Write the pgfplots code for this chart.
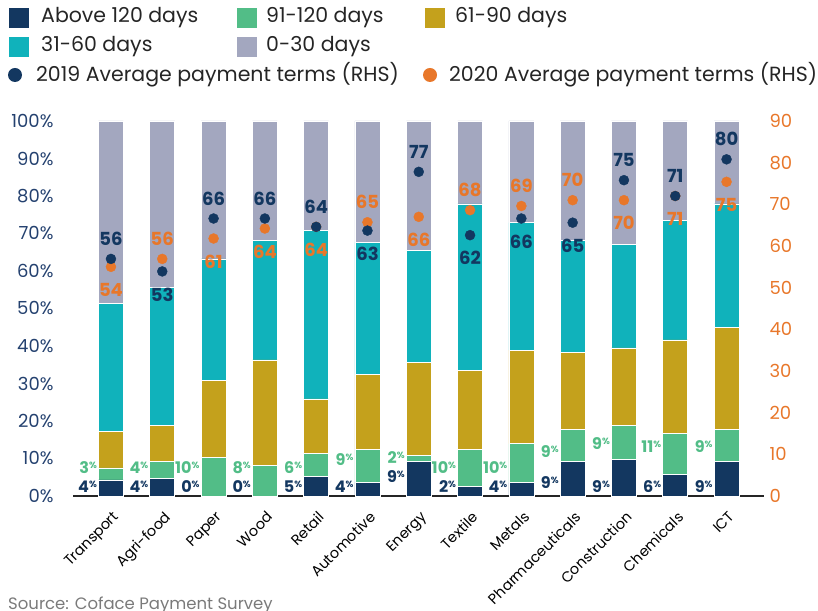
\documentclass[border=0pt]{standalone}
\usepackage{fontspec}
\setmainfont{Poppins}
\usepackage{pgfplots}
\usepackage{pgfplotstable}
\pgfplotsset{compat=1.18}
\definecolor{cNavy}{HTML}{133760}
\definecolor{cGreen}{HTML}{52BD87}
\definecolor{cGold}{HTML}{C4A11C}
\definecolor{cTeal}{HTML}{10B2BB}
\definecolor{cGrey}{HTML}{A3A7BF}
\definecolor{cOrange}{HTML}{E8772A}
\definecolor{cAxis}{HTML}{252525}
\definecolor{cTick}{HTML}{24416F}
\definecolor{cSrc}{HTML}{7A7A7A}
\newcommand{\pl}[1]{\textbf{#1}\smash{\raisebox{5pt}{\fontsize{9}{9}\selectfont\bfseries\%}}}
\pgfplotstableread{
x A B C D E
0 4.3 3.2 9.8 34.1 48.6
1 4.7 4.5 9.7 36.7 44.4
2 0 10.2 20.6 32.4 36.8
3 0 8.1 28.2 31.8 31.9
4 5.3 6.1 14.5 44.9 29.2
5 3.6 8.8 20.0 35.2 32.4
6 9.2 1.6 24.8 29.8 34.6
7 2.5 9.9 21.0 44.5 22.1
8 3.6 10.4 24.9 34.0 27.1
9 9.2 8.6 20.5 29.8 31.9
10 9.7 9.1 20.7 27.5 33.0
11 5.8 10.9 24.9 31.8 26.6
12 9.2 8.6 27.1 33.0 22.1
}\bars
\pgfplotsset{base/.style={scale only axis, width=691pt, height=375pt,
  at={(73pt,114pt)}, anchor=south west, xmin=-0.74, xmax=12.73, clip=false,
  /pgf/number format/assume math mode=true}}
\begin{document}
\begin{tikzpicture}
\useasboundingbox (0,0) rectangle (818pt,610pt);
% bars
\begin{axis}[base, ybar stacked, bar width=25pt, ymin=0, ymax=100,
  axis x line*=bottom, axis y line*=left,
  x axis line style={cAxis, line width=2pt, -},
  y axis line style={draw=none},
  major tick length=0,
  ytick={0,10,...,100},
  yticklabel={\pgfmathprintnumber{\tick}\%},
  yticklabel style={text=cTick, font=\fontsize{18}{18}\selectfont, anchor=east, xshift=-16pt},
  xtick={0,...,12},
  xticklabels={Transport,Agri-food,Paper,Wood,Retail,Automotive,Energy,Textile,Metals,Pharmaceuticals,Construction,Chemicals,ICT},
  xticklabel style={rotate=45, anchor=north east, font=\fontsize{14.5}{14.5}\selectfont, text=black, inner sep=1pt, xshift=-8pt, yshift=-10pt},
]
\addplot[fill=cNavy, draw=white, line width=0.6pt] table[x=x,y=A]{\bars};
\addplot[fill=cGreen, draw=white, line width=0.6pt] table[x=x,y=B]{\bars};
\addplot[fill=cGold, draw=white, line width=0.6pt] table[x=x,y=C]{\bars};
\addplot[fill=cTeal, draw=white, line width=0.6pt] table[x=x,y=D]{\bars};
\addplot[fill=cGrey, draw=white, line width=0.6pt] table[x=x,y=E]{\bars};
\end{axis}
% percentage labels
\begin{axis}[base, hide axis, ymin=0, ymax=100]
\addplot[draw=none, mark=none, nodes near coords, point meta=explicit symbolic,
  nodes near coords style={anchor=east, text=cNavy, font=\fontsize{16}{16}\selectfont, inner sep=0pt}]
coordinates {(-0.27,2.5) [\pl{4}] (0.73,2.5) [\pl{4}] (1.73,2.5) [\pl{0}] (2.73,2.5) [\pl{0}]
 (3.73,2.5) [\pl{5}] (4.73,2.5) [\pl{4}] (5.73,5.1) [\pl{9}] (6.73,2.5) [\pl{2}]
 (7.73,2.5) [\pl{4}] (8.73,3.6) [\pl{9}] (9.73,2.5) [\pl{9}] (10.73,2.5) [\pl{6}] (11.73,2.5) [\pl{9}]};
\addplot[draw=none, mark=none, nodes near coords, point meta=explicit symbolic,
  nodes near coords style={anchor=east, text=cGreen, font=\fontsize{16}{16}\selectfont, inner sep=0pt}]
coordinates {(-0.27,7.5) [\pl{3}] (0.73,7.5) [\pl{4}] (1.73,7.5) [\pl{10}] (2.73,7.5) [\pl{8}]
 (3.73,7.5) [\pl{6}] (4.73,9.6) [\pl{9}] (5.73,10.2) [\pl{2}] (6.73,7.5) [\pl{10}]
 (7.73,7.5) [\pl{10}] (8.73,11.8) [\pl{9}] (9.73,14.1) [\pl{9}] (10.73,13.1) [\pl{11}] (11.73,13.1) [\pl{9}]};
\end{axis}
% right axis: payment terms
\begin{axis}[base, ymin=0, ymax=90, axis y line*=right, axis x line=none,
  y axis line style={draw=none}, major tick length=0,
  ytick={0,10,...,90},
  yticklabel style={text=cOrange, font=\fontsize{18}{18}\selectfont, anchor=west, xshift=2pt}]
\addplot[only marks, mark=*, mark size=5pt, color=cOrange] coordinates {
 (0,55.0) (1,56.9) (2,61.8) (3,64.2) (4,64.6) (5,65.7) (6,67.0) (7,68.6) (8,69.6) (9,71.0) (10,71.0) (11,72.0) (12,75.4)};
\addplot[only marks, mark=*, mark size=5pt, color=cNavy] coordinates {
 (0,56.9) (1,53.9) (2,66.6) (3,66.6) (4,64.6) (5,63.7) (6,77.8) (7,62.6) (8,66.6) (9,65.6) (10,75.8) (11,72.0) (12,80.8)};
% 2019 labels above
\addplot[draw=none, mark=none, nodes near coords, point meta=explicit symbolic,
  nodes near coords style={anchor=center, text=cNavy, font=\bfseries\fontsize{18}{18}\selectfont, inner sep=0pt, yshift=20pt}]
coordinates {(0,56.9) [56] (2,66.6) [66] (3,66.6) [66] (4,64.6) [64] (6,77.8) [77] (10,75.8) [75] (11,72.0) [71] (12,80.8) [80]};
% 2019 labels below
\addplot[draw=none, mark=none, nodes near coords, point meta=explicit symbolic,
  nodes near coords style={anchor=center, text=cNavy, font=\bfseries\fontsize{18}{18}\selectfont, inner sep=0pt, yshift=-23pt}]
coordinates {(1,53.9) [53] (5,63.7) [63] (7,62.6) [62] (8,66.6) [66] (9,65.6) [65]};
% 2020 labels above
\addplot[draw=none, mark=none, nodes near coords, point meta=explicit symbolic,
  nodes near coords style={anchor=center, text=cOrange, font=\bfseries\fontsize{18}{18}\selectfont, inner sep=0pt, yshift=20pt}]
coordinates {(1,56.9) [56] (5,65.7) [65] (7,68.6) [68] (8,69.6) [69] (9,71.0) [70]};
% 2020 labels below
\addplot[draw=none, mark=none, nodes near coords, point meta=explicit symbolic,
  nodes near coords style={anchor=center, text=cOrange, font=\bfseries\fontsize{18}{18}\selectfont, inner sep=0pt, yshift=-23pt}]
coordinates {(0,55.0) [54] (2,61.8) [61] (3,64.2) [64] (4,64.6) [64] (6,67.0) [66] (10,71.0) [70] (11,72.0) [71] (12,75.4) [75]};
\end{axis}
% legend
\begin{scope}[every node/.style={anchor=west, inner sep=0pt, font=\fontsize{20.5}{20.5}\selectfont, text=cAxis}]
\fill[cNavy] (9pt,582pt) rectangle (29pt,602pt); \node at (41pt,592pt) {Above 120 days};
\fill[cGreen] (237pt,582pt) rectangle (257pt,602pt); \node at (266pt,592pt) {91-120 days};
\fill[cGold] (425pt,582pt) rectangle (445pt,602pt); \node at (455pt,592pt) {61-90 days};
\fill[cTeal] (9pt,553pt) rectangle (29pt,573pt); \node at (41pt,563pt) {31-60 days};
\fill[cGrey] (237pt,553pt) rectangle (257pt,573pt); \node at (266pt,563pt) {0-30 days};
\fill[cNavy] (15pt,535pt) circle (7pt); \node at (36pt,535pt) {2019 Average payment terms (RHS)};
\fill[cOrange] (430pt,535pt) circle (7pt); \node at (449pt,535pt) {2020 Average payment terms (RHS)};
\node[font=\fontsize{16.5}{16.5}\selectfont, text=cSrc, anchor=base west] at (8pt,1pt) {Source: Coface Payment Survey};
\end{scope}
\end{tikzpicture}
\end{document}
